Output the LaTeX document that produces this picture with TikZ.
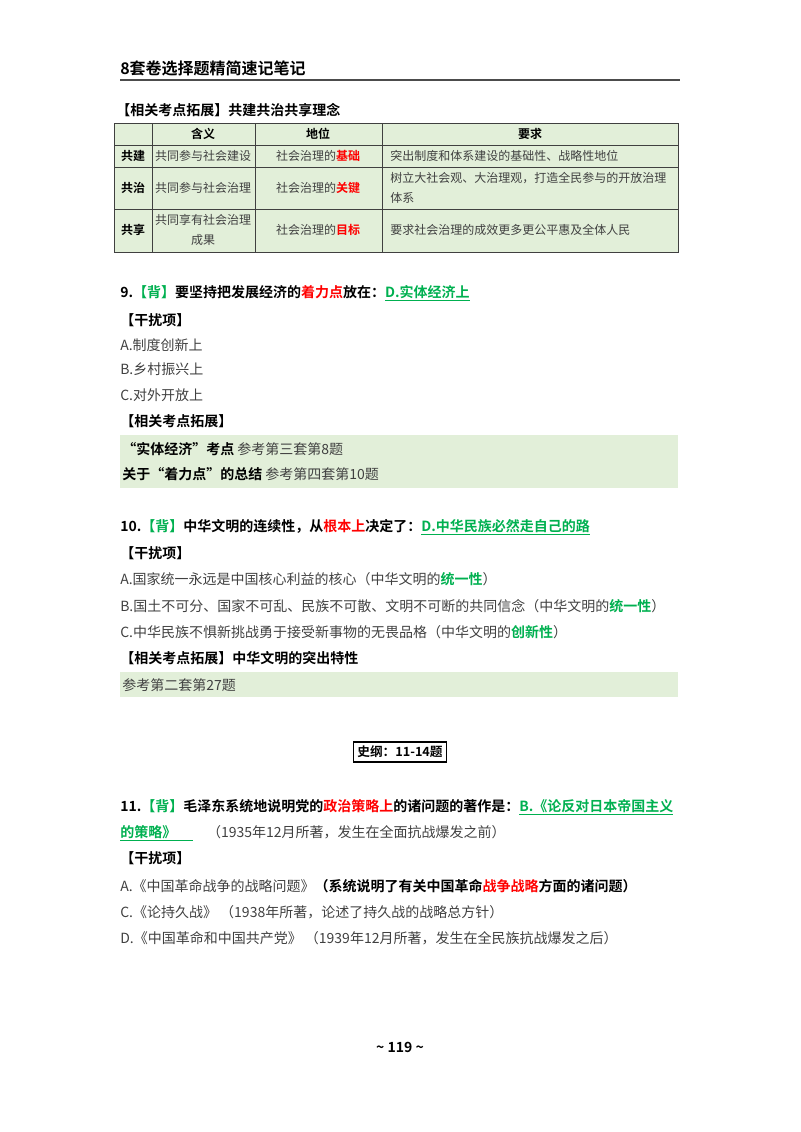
\documentclass[tikz,border=0pt]{standalone}
\usepackage{fontspec}
\setmainfont{Noto Sans CJK SC}[BoldFont={Noto Sans CJK SC Bold}]
\definecolor{gfill}{HTML}{E2EFD9}
\definecolor{ansg}{HTML}{00B050}
\definecolor{txt}{HTML}{404040}
\newcommand{\R}[1]{\textcolor{red}{#1}}
\newcommand{\G}[1]{\textcolor{ansg}{#1}}
\begin{document}
\begin{tikzpicture}[x=0.75pt,y=-0.75pt,
  ln/.style={anchor=west,inner sep=0pt,font=\fontsize{10.5}{12}\selectfont,text=txt},
  bl/.style={anchor=west,inner sep=0pt,font=\fontsize{10.5}{12}\selectfont\bfseries,text=black},
  tc/.style={inner sep=0pt,font=\fontsize{9}{15}\selectfont,text=txt,align=center},
  th/.style={inner sep=0pt,font=\fontsize{9}{12}\selectfont\bfseries,text=black}]
\useasboundingbox (0,0) rectangle (800,1132);
% header
\node[bl,font=\fontsize{12}{14}\selectfont\bfseries] (hd) at (120,68) {8套卷选择题精简速记笔记};
\draw[line width=1.2pt,black!70] (120,80) -- (680,80);
% table
\node[bl] (t0) at (116,110) {【相关考点拓展】共建共治共享理念};
\fill[gfill] (114,123) rectangle (678,252);
\draw[black!75,line width=0.6pt] (114,123) rectangle (678,252);
\foreach \yy in {145,167,209} \draw[black!75,line width=0.6pt] (114,\yy) -- (678,\yy);
\foreach \xx in {152,255,382} \draw[black!75,line width=0.6pt] (\xx,123) -- (\xx,252);
\node[th] (h2) at (203,134) {含义};
\node[th] (h3) at (318,134) {地位};
\node[th] (h4) at (530,134) {要求};
\node[th] (r1) at (133,156) {共建};
\node[th] (r2) at (133,188) {共治};
\node[th] (r3) at (133,230) {共享};
\node[tc] (c12) at (203,156) {共同参与社会建设};
\node[tc] (c22) at (203,188) {共同参与社会治理};
\node[tc] (c32) at (203,230) {共同享有社会治理\\成果};
\node[tc] (c13) at (318,156) {社会治理的\R{\bfseries 基础}};
\node[tc] (c23) at (318,188) {社会治理的\R{\bfseries 关键}};
\node[tc] (c33) at (318,230) {社会治理的\R{\bfseries 目标}};
\node[tc,anchor=west,align=left] (c14) at (390,156) {突出制度和体系建设的基础性、战略性地位};
\node[tc,anchor=west,align=left] (c24) at (390,188) {树立大社会观、大治理观，打造全民参与的开放治理\\体系};
\node[tc,anchor=west,align=left] (c34) at (390,230) {要求社会治理的成效更多更公平惠及全体人民};
% Q9
\node[bl] (q9) at (120,293) {9.\G{【背】}要坚持把发展经济的\R{着力点}放在：\G{\underline{D.实体经济上}}};
\node[bl] (g9) at (120,320) {【干扰项】};
\node[ln] (a9) at (120,345) {A.制度创新上};
\node[ln] (b9) at (120,369) {B.乡村振兴上};
\node[ln] (c9) at (120,395) {C.对外开放上};
\node[bl] (k9) at (120,421) {【相关考点拓展】};
\fill[gfill] (120,435) rectangle (678,488);
\node[bl] (k9a) at (122,449) {“实体经济”考点 \mdseries\textcolor{txt}{参考第三套第8题}};
\node[bl] (k9b) at (122,474) {关于“着力点”的总结 \mdseries\textcolor{txt}{参考第四套第10题}};
% Q10
\node[bl] (q10) at (120,527) {10.\G{【背】}中华文明的连续性，从\R{根本上}决定了：\G{\underline{D.中华民族必然走自己的路}}};
\node[bl] (g10) at (120,553) {【干扰项】};
\node[ln] (a10) at (120,579) {A.国家统一永远是中国核心利益的核心（中华文明的\G{\bfseries 统一性}）};
\node[ln] (b10) at (120,606) {B.国土不可分、国家不可乱、民族不可散、文明不可断的共同信念（中华文明的\G{\bfseries 统一性}）};
\node[ln] (c10) at (120,632) {C.中华民族不惧新挑战勇于接受新事物的无畏品格（中华文明的\G{\bfseries 创新性}）};
\node[bl] (k10) at (120,658) {【相关考点拓展】中华文明的突出特性};
\fill[gfill] (120,672) rectangle (678,697);
\node[ln] (k10a) at (122,685) {参考第二套第27题};
% section
\node[th,font=\fontsize{9.5}{12}\selectfont\bfseries,draw=black,line width=0.8pt,inner xsep=3pt,inner ysep=3pt] (sec) at (400,752) {史纲：11-14题};
% Q11
\node[bl] (q11) at (120,807) {11.\G{【背】}毛泽东系统地说明党的\R{政治策略上}的诸问题的著作是：\G{\underline{B.《论反对日本帝国主义}}};
\node[ln] (q11b) at (120,833) {\G{\bfseries\underline{的策略》\hspace{1.2em}}}\quad （1935年12月所著，发生在全面抗战爆发之前）};
\node[bl] (g11) at (120,858) {【干扰项】};
\node[ln] (a11) at (120,886) {A.《中国革命战争的战略问题》\textbf{\textcolor{black}{（系统说明了有关中国革命\R{战争战略}方面的诸问题）}}};
\node[ln] (c11) at (120,912) {C.《论持久战》 （1938年所著，论述了持久战的战略总方针）};
\node[ln] (d11) at (120,938) {D.《中国革命和中国共产党》 （1939年12月所著，发生在全民族抗战爆发之后）};
\node[bl,anchor=center] (pg) at (400,1047) {\textasciitilde\ 119 \textasciitilde};
\end{tikzpicture}
\end{document}
